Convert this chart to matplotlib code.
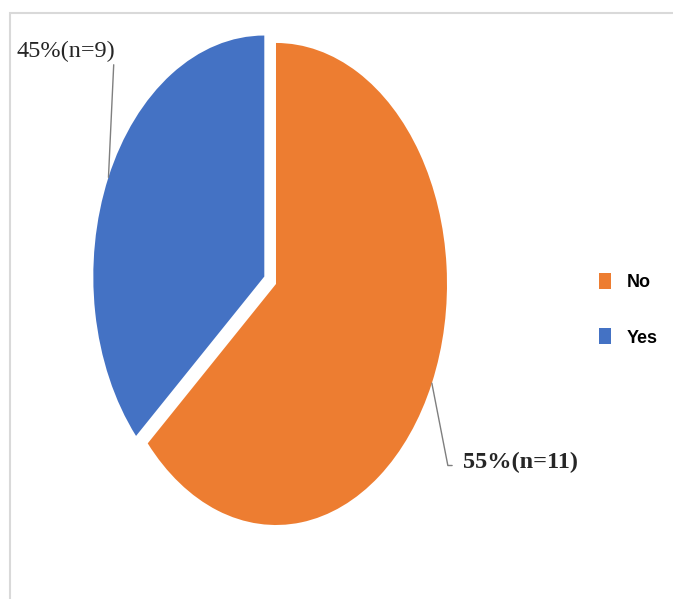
import numpy as np
import matplotlib
matplotlib.use("Agg")
import matplotlib.pyplot as plt
from matplotlib.patches import Rectangle

# data
categories = ["No", "Yes"]
counts = [11, 9]
percents = [55, 45]
# the slices in the picture are not drawn at 55/45, these are the drawn shares
drawn_share = [63.5, 36.5]
colors = ["#ED7D31", "#4472C4"]

fig = plt.figure(figsize=(6.73, 5.99), dpi=100)

# light frame (top and left edge only visible in the picture)
fig.add_artist(Rectangle((10 / 673, -0.1), 1.2, 1 - 13 / 599 + 0.1,
                         transform=fig.transFigure, fill=False,
                         edgecolor="#d9d9d9", linewidth=1.5))

# axes stretched so the pie is drawn as a tall ellipse
ax = fig.add_axes([0.1052, 0.0833, 0.6098, 0.8852])
explode = [0, 0.075]
wedges, _ = ax.pie(drawn_share, colors=colors, startangle=90,
                   counterclock=False, explode=explode,
                   wedgeprops=dict(linewidth=0))
ax.set_aspect("auto")
ax.set_xlim(-1.2, 1.2)
ax.set_ylim(-1.1, 1.1)
ax.axis("off")

label_text = ["%d%%(n=%d)" % (p, c) for p, c in zip(percents, counts)]
label_pos = [(1.095, -0.74), (-1.52, 0.965)]
for i, w in enumerate(wedges):
    mid = np.deg2rad((w.theta1 + w.theta2) / 2)
    r = 1 + explode[i]
    px, py = r * np.cos(mid), r * np.sin(mid)
    if i == 0:
        ax.annotate(label_text[i], xy=(px, py), xytext=label_pos[i],
                    ha="left", va="center", fontsize=17.5,
                    fontfamily="Liberation Serif", fontweight="bold",
                    color="#262626", annotation_clip=False,
                    arrowprops=dict(arrowstyle="-", color="#7f7f7f", lw=1,
                                    relpos=(0, 0.35), shrinkA=6, shrinkB=0,
                                    connectionstyle="angle,angleA=0,angleB=-79,rad=0"))
    else:
        ax.annotate(label_text[i], xy=(px, py), xytext=label_pos[i],
                    ha="left", va="center", fontsize=17.5,
                    fontfamily="Liberation Serif",
                    color="#262626", annotation_clip=False,
                    arrowprops=dict(arrowstyle="-", color="#7f7f7f", lw=1,
                                    relpos=(0.99, 0), shrinkA=0, shrinkB=0))

fig.legend(wedges, categories, loc="upper left",
           bbox_to_anchor=(599 / 673, 1 - 273 / 599), frameon=False,
           prop=dict(family="Liberation Sans", weight="bold", size=13),
           handlelength=0.68, handleheight=1.0, handletextpad=0.85,
           labelspacing=2.05, borderpad=0, borderaxespad=0)

fig.savefig("out.png", dpi=100)
